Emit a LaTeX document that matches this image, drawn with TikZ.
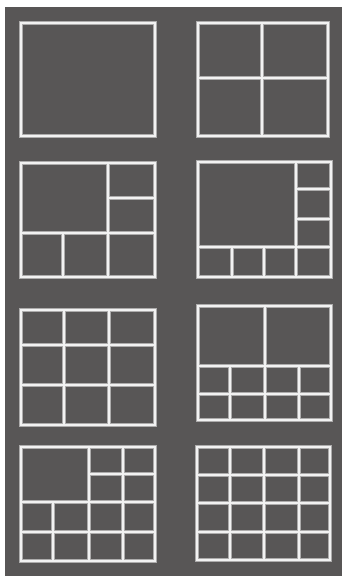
\documentclass[tikz,border=0pt]{standalone}
\definecolor{bg}{HTML}{585656}
\definecolor{ln}{HTML}{F2F2F2}
\tikzset{
  glow/.style={draw=ln!55!bg, line width=4.2pt, line cap=rect},
  lin/.style={draw=ln, line width=2.2pt, line cap=rect},
}
\newcommand{\grl}[1]{\draw[glow] #1; \draw[lin] #1;}
\begin{document}
\begin{tikzpicture}[x=1pt,y=-1pt]
\useasboundingbox (0,0) rectangle (342,576);
\fill[white] (0,0) rectangle (342,576);
\fill[bg] (5,7) rectangle (342,576);
% panel 1
\grl{(21,23) rectangle (155,136)}
% panel 2
\grl{(198,23) rectangle (328,136) (262,23) -- (262,136) (198,78) -- (328,78)}
% panel 3
\grl{(21,163) rectangle (155,277) (108,163) -- (108,277) (21,233) -- (155,233) (108,198) -- (155,198) (63,233) -- (63,277)}
% panel 4
\grl{(198,162) rectangle (331,277) (296,162) -- (296,277) (198,247) -- (331,247) (296,189) -- (331,189) (296,219) -- (331,219) (232,247) -- (232,277) (264,247) -- (264,277)}
% panel 5
\grl{(21,310) rectangle (155,425) (64,310) -- (64,425) (109,310) -- (109,425) (21,345) -- (155,345) (21,385) -- (155,385)}
% panel 6
\grl{(198,306) rectangle (331,420) (265,306) -- (265,420) (198,366) -- (331,366) (198,394) -- (331,394) (230,366) -- (230,420) (299,366) -- (299,420)}
% panel 7
\grl{(21,447) rectangle (155,561) (89,447) -- (89,561) (123,447) -- (123,561) (89,474) -- (155,474) (21,502) -- (155,502) (21,532) -- (155,532) (53,502) -- (53,561)}
% panel 8
\grl{(197,447) rectangle (330,560) (230,447) -- (230,560) (264,447) -- (264,560) (299,447) -- (299,560) (197,475) -- (330,475) (197,503) -- (330,503) (197,532) -- (330,532)}
\end{tikzpicture}
\end{document}
